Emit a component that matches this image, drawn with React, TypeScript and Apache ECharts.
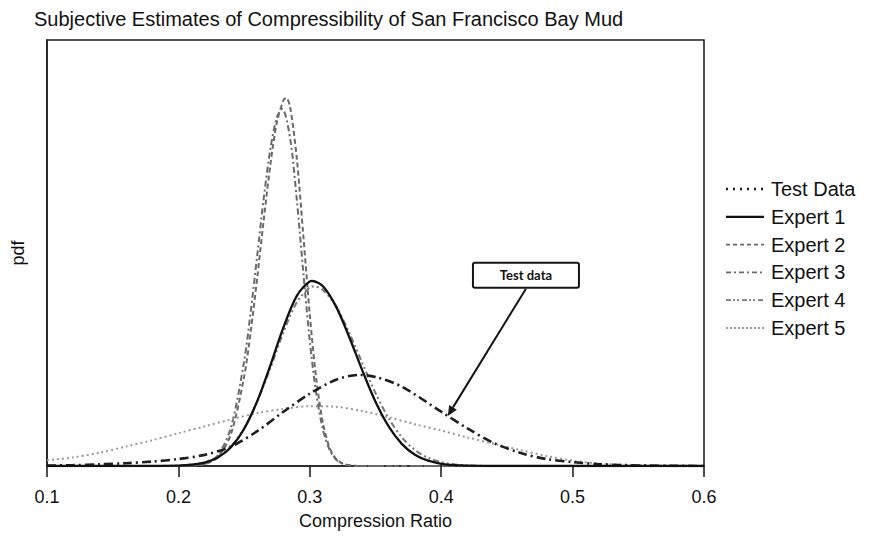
import React, { useEffect, useRef } from "react";
import * as echarts from "echarts";

// Compression ratio tick positions on the x axis
const X_MIN = 0.1;
const X_MAX = 0.6;
const X_STEP = 0.1;

const SERIES_NAMES = ["Test Data", "Expert 1", "Expert 2", "Expert 3", "Expert 4", "Expert 5"];

// [compression ratio, pdf]
const testData: [number, number][] = [
  [0.10, 0.03], [0.12, 0.06], [0.14, 0.12], [0.16, 0.2], [0.18, 0.32], [0.20, 0.5],
  [0.22, 0.8], [0.24, 1.4], [0.26, 2.5], [0.28, 3.9], [0.30, 5.2], [0.32, 6.2],
  [0.337, 6.54], [0.35, 6.4], [0.37, 5.7], [0.40, 3.9], [0.42, 2.7], [0.44, 1.65],
  [0.46, 0.95], [0.48, 0.5], [0.50, 0.28], [0.52, 0.13], [0.55, 0.04], [0.60, 0],
];

const expert1: [number, number][] = [
  [0.10, 0], [0.18, 0], [0.20, 0.03], [0.21, 0.09], [0.22, 0.24], [0.23, 0.61],
  [0.24, 1.35], [0.25, 2.66], [0.26, 4.66], [0.27, 7.23], [0.28, 9.97], [0.29, 12.2],
  [0.30, 13.26], [0.302, 13.29], [0.31, 12.91], [0.32, 11.45], [0.33, 9.27], [0.34, 6.85],
  [0.35, 4.61], [0.36, 2.84], [0.37, 1.59], [0.38, 0.81], [0.39, 0.38], [0.40, 0.16],
  [0.41, 0.06], [0.42, 0.02], [0.44, 0], [0.60, 0],
];

const expert2: [number, number][] = [
  [0.10, 0], [0.20, 0], [0.21, 0.02], [0.22, 0.13], [0.23, 0.63], [0.24, 2.3],
  [0.25, 6.4], [0.255, 9.63], [0.26, 13.53], [0.265, 17.72], [0.27, 21.65], [0.275, 24.7],
  [0.28, 26.29], [0.282, 26.44], [0.285, 25.8], [0.29, 22.19], [0.295, 16.63], [0.30, 10.87],
  [0.305, 6.19], [0.31, 3.08], [0.315, 1.33], [0.32, 0.5], [0.325, 0.17], [0.33, 0.05],
  [0.34, 0], [0.60, 0],
];

const expert3: [number, number][] = [
  [0.10, 0], [0.20, 0], [0.21, 0.03], [0.22, 0.16], [0.23, 0.77], [0.24, 2.78],
  [0.25, 7.51], [0.255, 11.06], [0.26, 15.14], [0.265, 19.27], [0.27, 22.78], [0.275, 25.06],
  [0.279, 25.65], [0.285, 23.55], [0.29, 19.24], [0.295, 13.95], [0.30, 8.98], [0.305, 5.14],
  [0.31, 2.61], [0.315, 1.18], [0.32, 0.47], [0.325, 0.17], [0.33, 0.05], [0.34, 0],
  [0.60, 0],
];

const expert4: [number, number][] = [
  [0.10, 0], [0.18, 0], [0.20, 0.04], [0.21, 0.11], [0.22, 0.28], [0.23, 0.67],
  [0.24, 1.42], [0.25, 2.71], [0.26, 4.62], [0.27, 7.04], [0.28, 9.61], [0.29, 11.74],
  [0.30, 12.84], [0.303, 12.9], [0.31, 12.64], [0.32, 11.47], [0.33, 9.58], [0.34, 7.38],
  [0.35, 5.24], [0.36, 3.43], [0.37, 2.06], [0.38, 1.15], [0.39, 0.59], [0.40, 0.28],
  [0.41, 0.12], [0.42, 0.05], [0.44, 0], [0.60, 0],
];

const expert5: [number, number][] = [
  [0.10, 0.42], [0.12, 0.62], [0.14, 0.95], [0.16, 1.4], [0.18, 1.85], [0.20, 2.35],
  [0.22, 2.85], [0.24, 3.35], [0.26, 3.8], [0.28, 4.1], [0.30, 4.3], [0.32, 4.25],
  [0.34, 3.95], [0.36, 3.5], [0.38, 3.0], [0.40, 2.55], [0.42, 2.05], [0.44, 1.6],
  [0.46, 1.15], [0.48, 0.72], [0.50, 0.38], [0.52, 0.18], [0.55, 0.06], [0.60, 0],
];

// Callout pointing at the test-data curve
const CALLOUT_TEXT = "Test data";
const CALLOUT_AT: [number, number] = [0.4645, 13.7];
const ARROW_X = 0.405;

function valueAt(points: [number, number][], x: number): number {
  for (let i = 1; i < points.length; i++) {
    const [x0, y0] = points[i - 1];
    const [x1, y1] = points[i];
    if (x >= x0 && x <= x1) return y0 + ((y1 - y0) * (x - x0)) / (x1 - x0);
  }
  return 0;
}

const FONT = "'Liberation Sans', Arial, sans-serif";

type LineLook = { color: string; width: number; type: any };

const LOOKS: Record<string, LineLook> = {
  "Test Data": { color: "#1e1e1e", width: 2.6, type: [9, 4, 2, 4] },
  "Expert 1": { color: "#111111", width: 2.3, type: "solid" },
  "Expert 2": { color: "#6a6a6a", width: 2, type: [5, 3] },
  "Expert 3": { color: "#6a6a6a", width: 2, type: [6, 3, 2, 3] },
  "Expert 4": { color: "#777777", width: 2, type: [6, 3, 2, 3, 2, 3] },
  "Expert 5": { color: "#9a9a9a", width: 2, type: [2, 3] },
};

// Key swatches: the test-data entry is shown as a dotted line
const KEY_LOOKS: Record<string, LineLook> = {
  ...LOOKS,
  "Test Data": { color: "#1e1e1e", width: 2.6, type: [2, 5] },
  "Expert 2": { color: "#6a6a6a", width: 1.8, type: [4, 3] },
  "Expert 3": { color: "#6a6a6a", width: 1.8, type: [5, 3, 2, 3] },
  "Expert 4": { color: "#777777", width: 1.8, type: [5, 2, 2, 2, 2, 3] },
  "Expert 5": { color: "#9a9a9a", width: 1.8, type: [2, 2] },
};

export default function App() {
  const ref = useRef<HTMLDivElement>(null);

  useEffect(() => {
    if (!ref.current) return;
    const chart = echarts.init(ref.current, undefined, { renderer: "svg" });

    const dataByName: Record<string, [number, number][]> = {
      "Test Data": testData,
      "Expert 1": expert1,
      "Expert 2": expert2,
      "Expert 3": expert3,
      "Expert 4": expert4,
      "Expert 5": expert5,
    };

    chart.setOption({
      animation: false,
      backgroundColor: "#ffffff",
      title: {
        text: "Subjective Estimates of Compressibility of San Francisco Bay Mud",
        left: 29,
        top: 4,
        textStyle: { fontFamily: FONT, fontSize: 20, fontWeight: "normal", color: "#111" },
      },
      grid: {
        left: 47,
        right: 166,
        top: 40,
        bottom: 79,
        show: true,
        borderColor: "#222",
        borderWidth: 1.6,
        backgroundColor: "transparent",
      },
      xAxis: {
        type: "value",
        min: X_MIN,
        max: X_MAX,
        interval: X_STEP,
        name: "Compression Ratio",
        nameLocation: "middle",
        nameGap: 46,
        nameTextStyle: { fontFamily: FONT, fontSize: 18, color: "#111" },
        axisLine: { lineStyle: { color: "#222", width: 1.6 } },
        axisTick: { show: true, inside: false, length: 11, lineStyle: { color: "#222", width: 1.6 } },
        axisLabel: {
          margin: 22,
          fontFamily: FONT,
          fontSize: 18,
          color: "#111",
          formatter: (v: number) => v.toFixed(1),
        },
        splitLine: { show: false },
      },
      yAxis: {
        type: "value",
        min: 0,
        max: 30.6,
        name: "pdf",
        nameLocation: "middle",
        nameGap: 20,
        nameTextStyle: { fontFamily: FONT, fontSize: 18, color: "#111" },
        axisLine: { show: true, lineStyle: { color: "#222", width: 1.6 } },
        axisTick: { show: false },
        axisLabel: { show: false },
        splitLine: { show: false },
      },
      series: SERIES_NAMES.map((name) => ({
        name,
        type: "line",
        data: dataByName[name],
        smooth: 0.3,
        showSymbol: false,
        symbol: "none",
        lineStyle: LOOKS[name],
        itemStyle: { color: LOOKS[name].color },
        z: name === "Expert 1" || name === "Test Data" ? 3 : 2,
      })),
    });

    // Callout box and arrow anchored in data coordinates
    const box = chart.convertToPixel({ gridIndex: 0 }, CALLOUT_AT) as number[];
    const tip = chart.convertToPixel({ gridIndex: 0 }, [ARROW_X, valueAt(testData, ARROW_X)]) as number[];
    const boxW = 106;
    const boxH = 25;
    const start = [box[0], box[1] + boxH / 2 + 1];
    const dx = tip[0] - start[0];
    const dy = tip[1] - start[1];
    const len = Math.sqrt(dx * dx + dy * dy);
    const ux = dx / len;
    const uy = dy / len;
    const headLen = 10;
    const headHalf = 4.5;
    const bx = tip[0] - ux * headLen;
    const by = tip[1] - uy * headLen;

    // Key to the right of the plot frame
    const keyLeft = 726;
    const keyTop = 189;
    const keyStep = 27.8;
    const keyItems: any[] = [];
    SERIES_NAMES.forEach((name, i) => {
      const y = keyTop + i * keyStep;
      const look = KEY_LOOKS[name];
      keyItems.push({
        type: "line",
        shape: { x1: keyLeft, y1: y, x2: keyLeft + 38, y2: y },
        style: {
          stroke: look.color,
          lineWidth: look.width,
          lineDash: look.type === "solid" ? null : look.type,
        },
      });
      keyItems.push({
        type: "text",
        x: keyLeft + 45,
        y,
        style: {
          text: name,
          fontFamily: FONT,
          fontSize: 20,
          fill: "#111",
          align: "left",
          verticalAlign: "middle",
        },
      });
    });

    chart.setOption({
      graphic: [
        ...keyItems,
        {
          type: "rect",
          shape: { x: box[0] - boxW / 2, y: box[1] - boxH / 2, width: boxW, height: boxH, r: 2 },
          style: { fill: "#fff", stroke: "#151515", lineWidth: 2 },
          z: 10,
        },
        {
          type: "text",
          x: box[0],
          y: box[1],
          style: {
            text: CALLOUT_TEXT,
            fontFamily: "Lato, 'Open Sans', sans-serif",
            fontWeight: "bold",
            fontSize: 13,
            fill: "#111",
            align: "center",
            verticalAlign: "middle",
          },
          z: 11,
        },
        {
          type: "line",
          shape: { x1: start[0], y1: start[1], x2: bx, y2: by },
          style: { stroke: "#151515", lineWidth: 2 },
          z: 10,
        },
        {
          type: "polygon",
          shape: {
            points: [
              [tip[0], tip[1]],
              [bx - uy * headHalf, by + ux * headHalf],
              [bx + uy * headHalf, by - ux * headHalf],
            ],
          },
          style: { fill: "#151515" },
          z: 10,
        },
      ],
    });

    return () => chart.dispose();
  }, []);

  return (
    <div
      ref={ref}
      style={{ position: "fixed", left: 0, top: 0, width: 870, height: 545, background: "#fff" }}
    />
  );
}
